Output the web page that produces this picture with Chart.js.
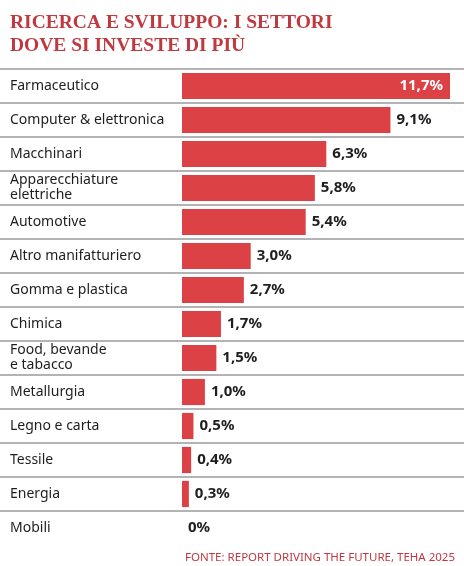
<!DOCTYPE html>
<html><head><meta charset="utf-8">
<script src="https://cdn.jsdelivr.net/npm/chart.js@4/dist/chart.umd.min.js"></script>
<style>html,body{margin:0;padding:0;background:#fff}#wrap{width:464px;height:566px;position:relative}</style>
</head><body><div id="wrap"><canvas id="c" width="464" height="566"></canvas></div>
<script>
const TITLE = ['RICERCA E SVILUPPO: I SETTORI', 'DOVE SI INVESTE DI PIÙ'];
const SOURCE = 'FONTE: REPORT DRIVING THE FUTURE, TEHA 2025';
const SECTORS = [
  ['Farmaceutico'], ['Computer & elettronica'], ['Macchinari'], ['Apparecchiature', 'elettriche'],
  ['Automotive'], ['Altro manifatturiero'], ['Gomma e plastica'], ['Chimica'],
  ['Food, bevande', 'e tabacco'], ['Metallurgia'], ['Legno e carta'], ['Tessile'], ['Energia'], ['Mobili'],
];
const SHARES = [11.7, 9.1, 6.3, 5.8, 5.4, 3.0, 2.7, 1.7, 1.5, 1.0, 0.5, 0.4, 0.3, 0];

const RED = '#dc4146';

function fmt(v) {
  return v === 0 ? '0%' : v.toFixed(1).replace('.', ',') + '%';
}

const decor = {
  id: 'decor',
  afterDatasetsDraw(chart) {
    const { ctx } = chart;
    const y = chart.scales.y;
    const meta = chart.getDatasetMeta(0);
    ctx.save();
    // title
    ctx.fillStyle = '#c0393f';
    ctx.font = 'bold 19.5px "Liberation Serif"';
    ctx.textBaseline = 'alphabetic';
    ctx.fillText(TITLE[0], 10, 28);
    ctx.fillText(TITLE[1], 10, 51);
    // row separators
    ctx.strokeStyle = '#9a9a9a';
    ctx.lineWidth = 1.5;
    const step = y.getPixelForValue(1) - y.getPixelForValue(0);
    for (let i = 0; i < SECTORS.length; i++) {
      const ly = y.getPixelForValue(i) - step / 2;
      ctx.beginPath(); ctx.moveTo(0, ly); ctx.lineTo(464, ly); ctx.stroke();
    }
    // labels
    ctx.fillStyle = '#1e1e1e';
    ctx.font = '14px "Noto Sans"';
    ctx.textBaseline = 'middle';
    SECTORS.forEach((lines, i) => {
      const cy = y.getPixelForValue(i);
      if (lines.length === 1) ctx.fillText(lines[0], 10, cy);
      else { ctx.fillText(lines[0], 10, cy - 8); ctx.fillText(lines[1], 10, cy + 7); }
    });
    // values
    ctx.font = 'bold 15px "Noto Sans"';
    SHARES.forEach((v, i) => {
      const bar = meta.data[i];
      if (i === 0) {
        ctx.fillStyle = '#fff'; ctx.textAlign = 'right';
        ctx.fillText(fmt(v), bar.x - 7, bar.y);
      } else {
        ctx.fillStyle = '#1e1e1e'; ctx.textAlign = 'left';
        ctx.fillText(fmt(v), bar.x + 6, bar.y);
      }
    });
    // source
    ctx.fillStyle = '#c0393f';
    ctx.font = '11.5px "Noto Sans"';
    ctx.textAlign = 'right';
    ctx.textBaseline = 'alphabetic';
    ctx.fillText(SOURCE, 455, 561);
    ctx.restore();
  }
};

new Chart(document.getElementById('c'), {
  type: 'bar',
  data: {
    labels: SECTORS.map(s => s.join(' ')),
    datasets: [{ data: SHARES, backgroundColor: RED, barPercentage: 0.77, categoryPercentage: 1 }],
  },
  options: {
    indexAxis: 'y',
    responsive: false,
    animation: false,
    events: [],
    layout: { padding: { left: 182, right: 14, top: 69, bottom: 21 } },
    plugins: { legend: { display: false }, tooltip: { enabled: false } },
    scales: {
      x: { display: false, min: 0, max: 11.7 },
      y: { display: false },
    },
  },
  plugins: [decor],
});
</script></body></html>
